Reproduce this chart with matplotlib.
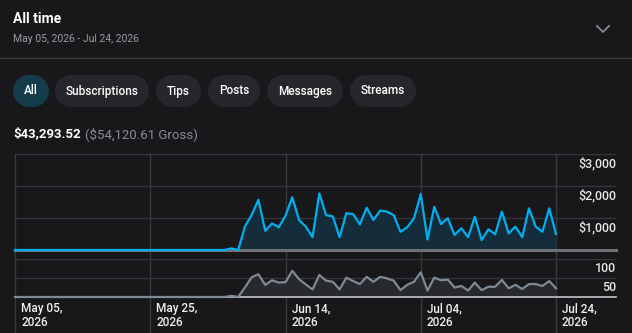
import numpy as np
import matplotlib.pyplot as plt

plt.rcParams['font.family'] = ['Roboto', 'DejaVu Sans']

# daily values, May 05 2026 .. Jul 24 2026 (81 days)
revenue = [0] * 32 + [50, 0,
           730, 1100, 1570, 600, 830, 710, 1070, 1650, 940, 730, 400, 1770,
           1090, 1050, 400, 1150, 1120, 800, 1320, 940, 1230, 1200, 1090, 570,
           710, 990, 1750, 330, 1350, 810, 990, 470, 680, 400, 1040, 310, 650,
           490, 1200, 520, 730, 400, 1300, 730, 570, 1300, 500]
counts = [0] * 32 + [3, 0,
          25, 52, 60, 32, 44, 38, 39, 69, 47, 33, 20, 58, 43, 40, 20, 51, 42,
          34, 53, 40, 53, 49, 43, 18, 32, 40, 65, 17, 51, 44, 46, 25, 29, 17,
          38, 18, 27, 27, 45, 23, 32, 21, 34, 34, 29, 42, 23]
days = np.arange(len(revenue))

tick_days = [0, 20, 40, 60, 80]
tick_labels = ["May 05,\n2026", "May 25,\n2026", "Jun 14,\n2026", "Jul 04,\n2026", "Jul 24,\n2026"]
rev_ticks = [1000, 2000, 3000]
cnt_ticks = [50, 100]
pills = ["All", "Subscriptions", "Tips", "Posts", "Messages", "Streams"]
pill_x = [(13, 49), (55, 149), (156, 201), (208, 260), (267, 343), (350, 416)]

BG = '#18181b'
GRID = '#36363a'
BLUE = '#00aff0'
GRAY = '#7f8993'

W, H = 632, 333
fig = plt.figure(figsize=(W / 100, H / 100), dpi=100, facecolor=BG)

ov = fig.add_axes([0, 0, 1, 1])
ov.set_xlim(0, W)
ov.set_ylim(H, 0)
ov.axis('off')

def rect(x0, y0, x1, y1):
    return [x0 / W, 1 - y1 / H, (x1 - x0) / W, (y1 - y0) / H]

# header
ov.text(13, 19, "All time", color='white', fontsize=10, fontweight='bold', va='center')
ov.text(13, 39, "May 05, 2026 - Jul 24, 2026", color='#9a9aa2', fontsize=7.5, va='center')
ov.plot([597, 603, 609], [26, 32, 26], color='#8a8a92', lw=1.3)
ov.plot([0, W], [58, 58], color='#3a3a3e', lw=1)

# filter pills (thick round-capped lines, 32 px tall)
for i, (name, (x0, x1)) in enumerate(zip(pills, pill_x)):
    fc = '#143c4b' if i == 0 else '#27272b'
    ov.plot([x0 + 16, x1 - 16], [91, 91], color=fc, lw=32 * 0.72,
            solid_capstyle='round')
    ov.text((x0 + x1) / 2, 91, name, color='white', fontsize=8.5,
            fontweight='medium', ha='center', va='center')

t1 = ov.text(13, 134, "$43,293.52", color='white', fontsize=9.5, fontweight='bold', va='center')
fig.canvas.draw()
bb = t1.get_window_extent()
x_end = bb.x1 * W / fig.bbox.width + 4
ov.text(x_end, 134, "($54,120.61 Gross)", color='#8a8a94', fontsize=9.5, va='center')

# chart panels
px_day = (556 - 15) / 80
xmax = (616 - 15) / px_day
ax1 = fig.add_axes(rect(15, 154, 616, 250))
ax2 = fig.add_axes(rect(15, 259, 616, 297))
for ax in (ax1, ax2):
    ax.set_facecolor('none')
    ax.set_xlim(0, xmax)
    ax.axis('off')
ax1.set_ylim(0, 3000)
ax2.set_ylim(0, 100)

for v in rev_ticks:
    ax1.axhline(v, color=GRID, lw=1, zorder=1)
    ax1.annotate(f"${v:,}", xy=(1, v), xycoords=('axes fraction', 'data'),
                 xytext=(0, -3), textcoords='offset pixels', ha='right', va='top',
                 color='#e6e6e6', fontsize=9, fontweight='medium')
for v in cnt_ticks:
    ax2.axhline(v, color=GRID, lw=1, zorder=1)
    ax2.annotate(f"{v}", xy=(1, v), xycoords=('axes fraction', 'data'),
                 xytext=(0, -3), textcoords='offset pixels', ha='right', va='top',
                 color='#e6e6e6', fontsize=9, fontweight='medium')

for d, lab in zip(tick_days, tick_labels):
    ax1.axvline(d, ymin=-(333 - 250) / 96, ymax=1, color='#3a3a3e', lw=1,
                clip_on=False, zorder=1)
    ax2.annotate(lab, xy=(d, 0), xycoords=('data', 'axes fraction'),
                 xytext=(6, -5), textcoords='offset pixels', ha='left', va='top',
                 color='#f0f0f0', fontsize=8.5, fontweight='medium', linespacing=1.15)

ax1.fill_between(days, revenue, color='#152d3a', lw=0, zorder=2)
ax1.plot(days, revenue, color=BLUE, lw=1.6, zorder=4, clip_on=False)
ax1.axhline(0, color='#707075', lw=2.2, zorder=3, clip_on=False)

ax2.fill_between(days, counts, color='#28292e', lw=0, zorder=2)
ax2.plot(days, counts, color=GRAY, lw=1.6, zorder=4, clip_on=False)
ax2.axhline(0, color='#c4c4c8', lw=1.2, zorder=3, clip_on=False)

fig.savefig("out.png", dpi=100, facecolor=BG)
